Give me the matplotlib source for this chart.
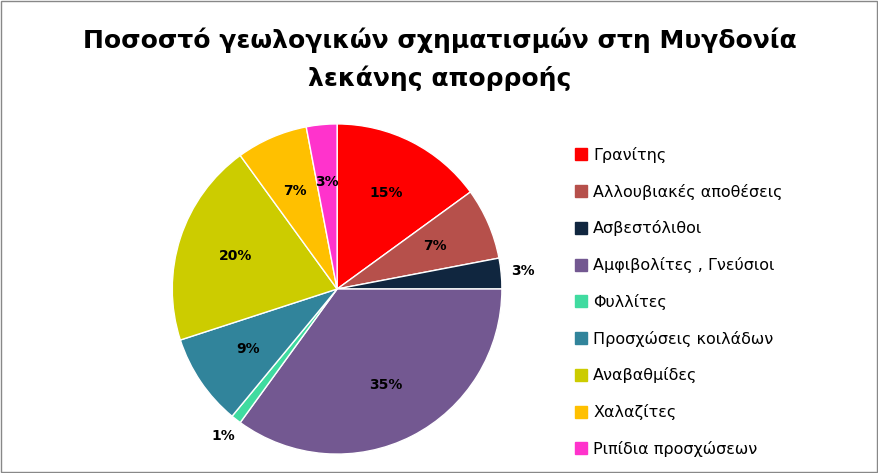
import matplotlib
matplotlib.use("Agg")
import matplotlib.pyplot as plt
from matplotlib.patches import Rectangle
from matplotlib.lines import Line2D
import numpy as np

labels = ["Γρανίτης", "Αλλουβιακές αποθέσεις", "Ασβεστόλιθοι", "Αμφιβολίτες , Γνεύσιοι",
          "Φυλλίτες", "Προσχώσεις κοιλάδων", "Αναβαθμίδες", "Χαλαζίτες", "Ριπίδια προσχώσεων"]
values = [15, 7, 3, 35, 1, 9, 20, 7, 3]
colors = ["#FF0000", "#B6504B", "#10263F", "#735891", "#40DBA0", "#31849B", "#CCCC00", "#FFC000", "#FF33CC"]

fig = plt.figure(figsize=(8.79, 4.73), dpi=100)
fig.patches.append(Rectangle((0.001, 0.002), 0.997, 0.995, transform=fig.transFigure,
                             fill=False, edgecolor="#888888", lw=1))
fig.text(0.5, 0.915, "Ποσοστό γεωλογικών σχηματισμών στη Μυγδονία", ha="center", va="center",
         fontsize=18, fontweight="bold")
fig.text(0.5, 0.835, "λεκάνης απορροής", ha="center", va="center", fontsize=18, fontweight="bold")

ax = fig.add_axes([0.196, 0.04, 0.375, 0.698])
wedges, texts, autotexts = ax.pie(values, colors=colors, startangle=90, counterclock=False,
                                  autopct="%d%%", pctdistance=0.65,
                                  wedgeprops=dict(edgecolor="white", linewidth=1),
                                  textprops=dict(fontsize=10, fontweight="bold"))
for w, t, v in zip(wedges, autotexts, values):
    if (v <= 3 and -60 < w.theta1 < 80) or v == 1:
        a = np.deg2rad((w.theta1 + w.theta2) / 2)
        t.set_position((1.13 * np.cos(a), 1.13 * np.sin(a)))
ax.set_aspect("auto")
ax.set_xlim(-1, 1)
ax.set_ylim(-1, 1)

handles = [Line2D([], [], marker="s", ls="", color=c, markersize=8) for c in colors]
fig.legend(handles, labels, loc="upper left", bbox_to_anchor=(0.635, 0.72), frameon=False,
           fontsize=11.5, labelspacing=1.3, handletextpad=0.3, handlelength=1)
fig.savefig("out.png", dpi=100)
